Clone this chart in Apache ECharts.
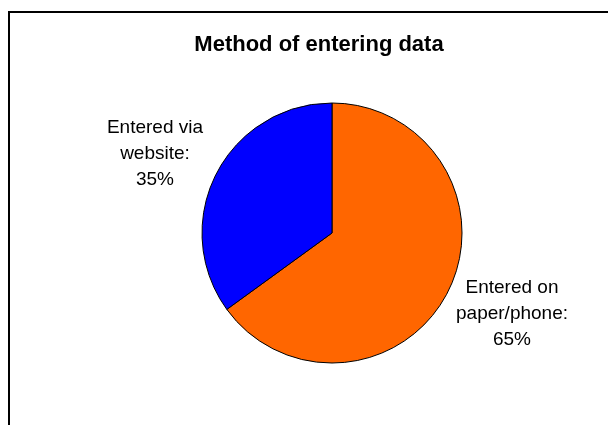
<!DOCTYPE html>
<html>
<head>
<meta charset="utf-8">
<script src="https://cdn.jsdelivr.net/npm/echarts@6/dist/echarts.min.js"></script>
<style>
  html, body { margin: 0; padding: 0; background: #fff; }
  #chart { width: 608px; height: 425px; }
</style>
</head>
<body>
<div id="chart"></div>
<script>
  const TITLE = "Method of entering data";
  const CATEGORIES = ["Entered on\npaper/phone:", "Entered via\nwebsite:"];
  const VALUES = [65, 35];
  const COLORS = ["#FF6600", "#0000FF"];
  // where each label block sits (centre of the text block)
  const LABEL_POS = [[512, 314], [155, 154]];

  var FONT = 'Arial, "Liberation Sans", sans-serif';

  var option = {
    backgroundColor: '#fff',
    animation: false,
    title: {
      text: TITLE,
      left: 314,
      top: 29,
      textAlign: 'center',
      textStyle: { fontFamily: FONT, fontSize: 22, fontWeight: 'bold', color: '#000' }
    },
    graphic: [{
      type: 'rect',
      shape: { x: 9, y: 12, width: 700, height: 500 },
      style: { fill: 'none', stroke: '#000', lineWidth: 2 },
      silent: true
    }],
    series: [{
      type: 'pie',
      center: [332, 233],
      radius: 130,
      startAngle: 90,
      clockwise: true,
      data: CATEGORIES.map((name, i) => ({
        name: name,
        value: VALUES[i],
        itemStyle: { color: COLORS[i] }
      })),
      itemStyle: { borderColor: '#000', borderWidth: 1 },
      label: {
        show: true,
        position: 'outside',
        formatter: '{b}\n{c}%',
        fontFamily: FONT,
        fontSize: 19,
        lineHeight: 26,
        color: '#000',
        align: 'center',
        overflow: 'none',
        width: 200
      },
      labelLine: { show: false },
      labelLayout: function (params) {
        var p = LABEL_POS[params.dataIndex];
        return { x: p[0], y: p[1], align: 'center', verticalAlign: 'middle' };
      },
      emphasis: { disabled: true }
    }]
  };

  var myChart = echarts.init(document.getElementById('chart'), null, { renderer: 'canvas' });
  myChart.setOption(option);
</script>
</body>
</html>
